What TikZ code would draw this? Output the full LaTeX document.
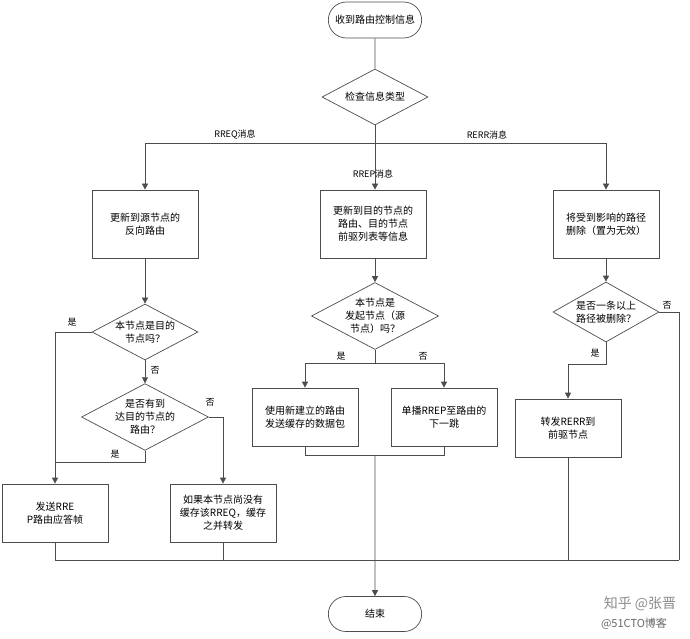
\documentclass[tikz,border=0pt]{standalone}
\usepackage{fontspec}
\setmainfont{Liberation Serif}
\newfontfamily\cjk{Noto Sans CJK SC}
\usetikzlibrary{shapes.geometric,arrows.meta}
\begin{document}
\begin{tikzpicture}[x=1pt,y=-1pt,font=\cjk\fontsize{10}{13}\selectfont,
  ln/.style={draw=black!70,line width=0.7pt},
  arr/.style={ln,-{Triangle[length=6pt,width=6pt]}},
  term/.style={draw=black!70,line width=0.7pt,rounded rectangle,minimum width=100pt,minimum height=36pt,align=center},
  dec/.style={draw=black!70,line width=0.7pt,diamond,aspect=1.9,inner sep=0pt,minimum width=106pt,minimum height=56pt,align=center},
  box/.style={draw=black!70,line width=0.7pt,minimum width=106pt,minimum height=62pt,align=center},
  lab/.style={font=\cjk\fontsize{9}{11}\selectfont}]
\useasboundingbox (0,0) rectangle (690,639);
\usetikzlibrary{shapes.misc}
\node[term] (start) at (375,20) {收到路由控制信息};
\node[dec] (type) at (375,97) {检查信息类型};
\node[box,minimum height=68pt] (b1) at (145,224) {更新到源节点的\\反向路由};
\node[box,minimum height=68pt] (b2) at (373,224) {更新到目的节点的\\路由、目的节点\\前驱列表等信息};
\node[box,minimum height=68pt] (b3) at (606,224) {将受到影响的路径\\删除（置为无效）};
\node[dec] (d1) at (145,332) {本节点是目的\\节点吗？};
\node[dec] (d2) at (145,417) {是否有到\\达目的节点的\\路由？};
\node[dec,minimum height=60pt] (d3) at (375,316) {本节点是\\发起节点（源\\节点）吗？};
\node[dec,minimum height=60pt] (d4) at (606,312) {是否一条以上\\路径被删除？};
\node[box,minimum height=58pt] (b4) at (55,513) {发送RRE\\P路由应答帧};
\node[box,minimum height=58pt] (b5) at (223,513) {如果本节点尚没有\\缓存该RREQ，缓存\\之并转发};
\node[box,minimum height=58pt] (b6) at (305,417) {使用新建立的路由\\发送缓存的数据包};
\node[box,minimum height=58pt] (b7) at (444,417) {单播RREP至路由的\\下一跳};
\node[box,minimum height=58pt] (b8) at (568,428) {转发RERR到\\前驱节点};
\node[term,minimum height=35pt] (end) at (375,614) {结束};
\coordinate (j1) at (375,143);
\coordinate (jl) at (145,143);
\coordinate (jr) at (606,143);
\draw[ln] (start) -- (type);
\draw[ln] (type) -- (j1);
\draw[ln] (jl) -- (jr);
\draw[arr] (jl) -- (b1);
\draw[arr] (j1) -- (b2.north -| j1);
\draw[arr] (jr) -- (b3);
\node[lab] at (235,135) {RREQ消息};
\node[lab] at (373,174) {RREP消息};
\node[lab] at (487,135) {RERR消息};
\draw[arr] (b1) -- (d1);
\draw[arr] (b2.south -| d3) -- (d3);
\draw[arr] (b3) -- (d4);
% left branch
\draw[arr] (d1.west) -| (b4.north);
\node[lab] at (72,322) {是};
\draw[arr] (d1) -- (d2);
\node[lab] at (155,370) {否};
\draw[arr] (d2.east) -| (b5.north);
\node[lab] at (210,402) {否};
\draw[ln] (d2.south) -- (145,462) -- (55,462);
\node[lab] at (115,454) {是};
% middle
\draw[ln] (d3.south) -- (375,363);
\draw[arr] (305,363) -- (b6.north);
\draw[arr] (444,363) -- (b7.north);
\draw[ln] (305,363) -- (444,363);
\node[lab] at (341,356) {是};
\node[lab] at (423,356) {否};
\draw[ln] (b6.south) -- (305,455) -- (444,455) -- (b7.south);
\draw[arr] (375,455) -- (end);
% right
\draw[ln] (d4.east) -- (679,312) -- (679,560);
\node[lab] at (667,305) {否};
\draw[arr] (d4.south) -- (606,364) -| (b8.north);
\node[lab] at (595,353) {是};
% bottom
\draw[ln] (b4.south) -- (55,560) -- (679,560);
\draw[ln] (b5.south) -- (223,560);
\draw[ln] (b8.south) -- (568,560);
\node[text=black!45,font=\cjk\fontsize{14}{16}\selectfont] at (640,604) {知乎 @张晋};
\node[text=black!60,font=\cjk\fontsize{11}{13}\selectfont] at (634,624) {@51CTO博客};
\end{tikzpicture}
\end{document}
